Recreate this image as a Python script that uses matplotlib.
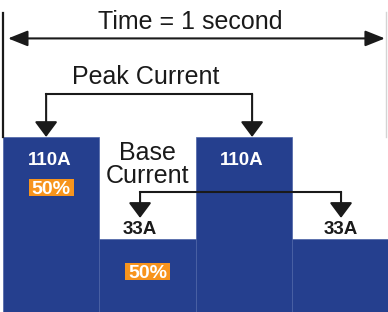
import matplotlib.pyplot as plt
from matplotlib.patches import FancyArrowPatch, Rectangle

plt.rcParams["font.family"] = ["Liberation Sans", "DejaVu Sans"]

# %%
# Pulsed welding current over one second: peak / base levels, 50% duty each.
seg_start = [0.0, 0.25, 0.5, 0.75]   # s
seg_dur = [0.25, 0.25, 0.25, 0.25]   # s
current = [110, 33, 110, 33]         # A
current_label = ["110A", "33A", "110A", "33A"]
duty_label = ["50%", "50%"]          # peak, base
period_label = "Time = 1 second"

BLUE = "#253f8e"
ORANGE = "#f7941d"
INK = "#1a1a1a"
FLOOR = -22.1   # schematic baseline, bars are not drawn to zero

fig = plt.figure(figsize=(3.88, 3.12), dpi=100)
ax = fig.add_axes([0, 0, 1, 1])
ax.set_xlim(-0.0078, 1.0)
ax.set_ylim(FLOOR, 213.4)
ax.axis("off")

ax.bar(seg_start, [c - FLOOR for c in current], width=seg_dur, bottom=FLOOR,
       align="edge", color=BLUE, edgecolor="#4c63a6", linewidth=0.5, zorder=1)


def arrow(p0, p1, style="-|>", hl=9.4, hw=7.0):
    a = FancyArrowPatch(p0, p1, arrowstyle=f"{style},head_length={hl},head_width={hw}",
                        mutation_scale=1, color=INK, lw=1.5,
                        shrinkA=0, shrinkB=0, zorder=3)
    ax.add_patch(a)


# period arrow + frame lines
ax.plot([0.0, 0.0], [203.6, current[0]], color=INK, lw=1.6, zorder=3)
ax.plot([0.996, 0.996], [204.0, current[0]], color="#d4d4d4", lw=1.0, zorder=0)
arrow((0.013, 184.4), (0.992, 184.4), style="<|-|>", hl=12.0, hw=4.8)
ax.text(0.486, 196.8, period_label, ha="center", va="center", fontsize=18, color=INK)

# peak current bracket
peak_x = [0.112, 0.647]
ax.plot(peak_x, [142.5, 142.5], color=INK, lw=1.5, solid_capstyle="projecting", zorder=3)
for x in peak_x:
    arrow((x, 142.5), (x, current[0]))
ax.text(0.371, 155.3, "Peak Current", ha="center", va="center", fontsize=18, color=INK)

# base current bracket
base_x = [0.356, 0.878]
ax.plot(base_x, [68.5, 68.5], color=INK, lw=1.5, solid_capstyle="projecting", zorder=3)
for x in base_x:
    arrow((x, 68.5), (x, 48.9))
ax.text(0.375, 89.5, "Base\nCurrent", ha="center", va="center", fontsize=18,
        color=INK, linespacing=0.95)

# level labels
for i, (s, d, lab) in enumerate(zip(seg_start, seg_dur, current_label)):
    if current[i] > 50:
        ax.text(s + d / 2 - 0.005, 92.6, lab, ha="center", va="center",
                fontsize=13.5, fontweight="bold", color="white", zorder=4)
    else:
        ax.text(base_x[i // 2], 40.5, lab, ha="center", va="center",
                fontsize=13.5, fontweight="bold", color=INK, zorder=4)

# duty-cycle tags
for (s, d), lab, y in zip([(seg_start[0], seg_dur[0]), (seg_start[1], seg_dur[1])],
                          duty_label, [72.0, 8.4]):
    cx = s + d / 2
    ax.add_patch(Rectangle((cx - 0.0585, y - 6.2), 0.117, 12.4,
                           color=ORANGE, lw=0, zorder=4))
    ax.text(cx, y, lab, ha="center", va="center_baseline", fontsize=14,
            fontweight="bold", color="white", zorder=5)

fig.savefig("out.png", dpi=100)
